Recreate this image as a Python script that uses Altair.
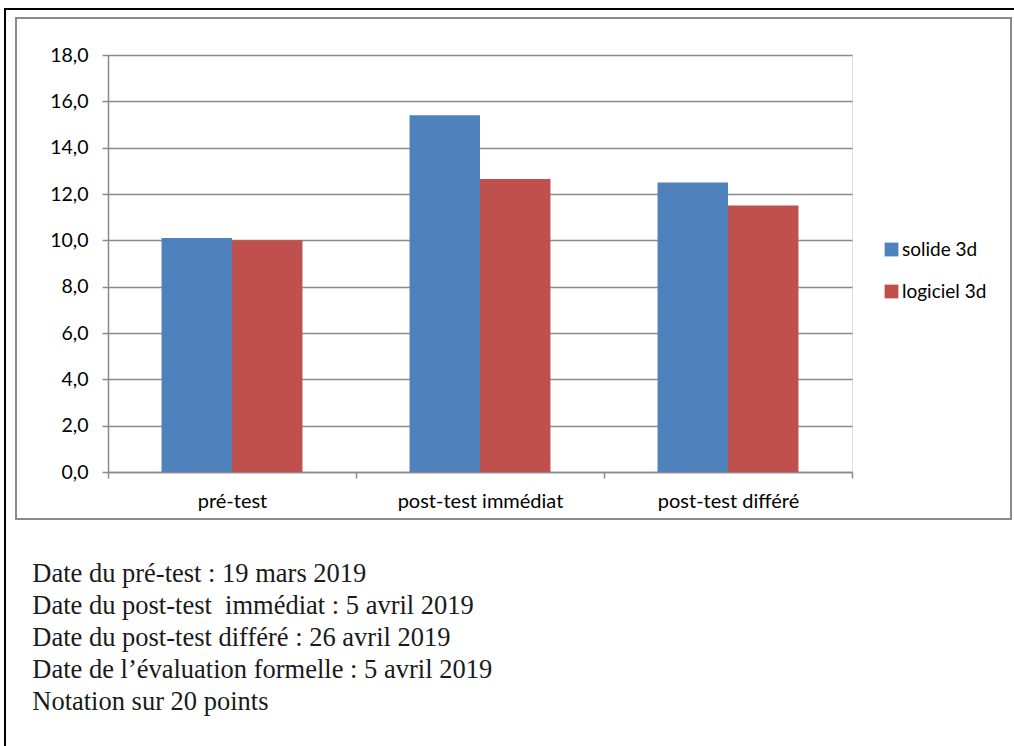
import altair as alt
import pandas as pd

categories = ["pré-test", "post-test immédiat", "post-test différé"]
series_names = ["solide 3d", "logiciel 3d"]
solide_3d = [10.1, 15.4, 12.5]
logiciel_3d = [10.0, 12.65, 11.5]
y_ticks = [0, 2, 4, 6, 8, 10, 12, 14, 16, 18]
colors = ["#4F81BD", "#C0504D"]
notes = [
    "Date du pré-test : 19 mars 2019",
    "Date du post-test\u00a0 immédiat : 5 avril 2019",
    "Date du post-test différé : 26 avril 2019",
    "Date de l\u2019évaluation formelle : 5 avril 2019",
    "Notation sur 20 points",
]

rows = []
for i, c in enumerate(categories):
    rows.append({"cat": c, "serie": series_names[0], "val": solide_3d[i]})
    rows.append({"cat": c, "serie": series_names[1], "val": logiciel_3d[i]})
df = pd.DataFrame(rows)

W, H = 744, 417
LEFT, TOP = 108, 55

bars = alt.Chart(df).mark_bar(strokeWidth=0).encode(
    x=alt.X("cat:N", sort=categories, title=None,
            scale=alt.Scale(paddingInner=0, paddingOuter=0),
            axis=alt.Axis(tickBand="extent", labelAngle=0, labelFont="Lato",
                          labelFontSize=20, labelColor="#000", labelPadding=13,
                          domainColor="#8a8a8a", domainWidth=1.5, tickColor="#8a8a8a",
                          tickWidth=1.5, tickSize=6, grid=False)),
    xOffset=alt.XOffset("serie:N", sort=series_names,
                        scale=alt.Scale(paddingInner=0, paddingOuter=0.76)),
    y=alt.Y("val:Q", title=None,
            scale=alt.Scale(domain=[0, 18], nice=False),
            axis=alt.Axis(values=y_ticks,
                          labelExpr="replace(format(datum.value, '.1f'), '.', ',')",
                          labelFont="Lato", labelFontSize=19.5, labelColor="#000",
                          labelPadding=14, tickSize=6, tickColor="#8a8a8a", tickWidth=1.5,
                          domainColor="#8a8a8a", domainWidth=1.5,
                          gridColor="#8a8a8a", gridWidth=1.5)),
    color=alt.Color("serie:N", sort=series_names,
                    scale=alt.Scale(domain=series_names, range=colors),
                    legend=alt.Legend(title=None, orient="none", legendX=774, legendY=185,
                                      symbolType="square", symbolSize=190,
                                      symbolStrokeWidth=0, labelFont="Lato",
                                      labelFontSize=19, labelColor="#000",
                                      rowPadding=22, labelOffset=1)),
)

page = alt.Chart(df).mark_rect(fill=None, stroke="#000", strokeWidth=1.5).encode(
    x=alt.value(5 - LEFT), x2=alt.value(1014 - LEFT + 10),
    y=alt.value(9 - TOP), y2=alt.value(746 - TOP + 10),
)
box = alt.Chart(df).mark_rect(fill=None, stroke="#8a8a8a", strokeWidth=2).encode(
    x=alt.value(16 - LEFT), x2=alt.value(1011 - LEFT),
    y=alt.value(18 - TOP), y2=alt.value(519 - TOP),
)

chart = alt.layer(page, box, bars).properties(
    width=W, height=H,
    title=alt.TitleParams(text=notes, orient="bottom", anchor="start",
                          font="Liberation Serif", fontSize=26.5, fontWeight="normal",
                          color="#1a1a1a", lineHeight=32, dx=28, offset=-196,
                          baseline="top"),
    padding={"left": LEFT, "top": TOP, "right": 1014 - LEFT - W, "bottom": 746 - TOP - H},
    autosize=alt.AutoSizeParams(type="none"),
).configure_view(stroke=None).configure(background="white")

chart.save("out.html", embed_options={"renderer": "svg", "actions": False})
